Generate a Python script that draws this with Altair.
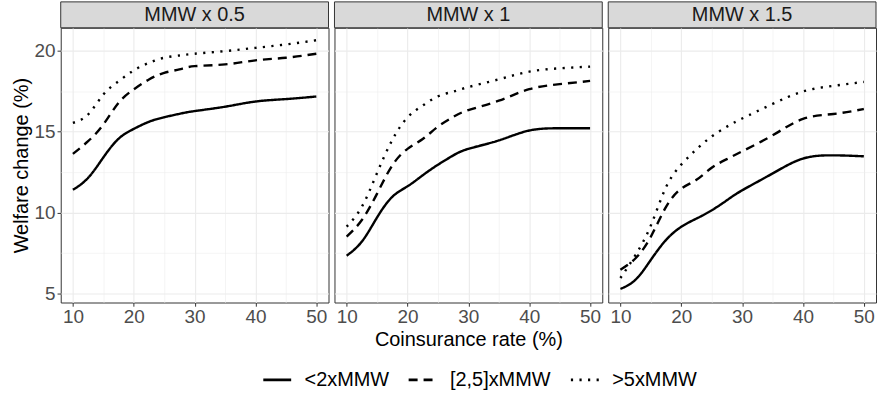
import altair as alt
import pandas as pd

# ---- data ----
rates = [10, 12.5, 15, 17.5, 20, 22.5, 25, 27.5, 30, 35, 40, 45, 50]
panels = ["MMW x 0.5", "MMW x 1", "MMW x 1.5"]
groups = ["<2xMMW", "[2,5]xMMW", ">5xMMW"]

p05_low = [11.40, 12.14, 13.40, 14.55, 15.16, 15.60, 15.88, 16.09, 16.26, 16.53, 16.85, 17.00, 17.16]
p05_mid = [13.62, 14.40, 15.43, 16.77, 17.60, 18.21, 18.62, 18.83, 19.03, 19.14, 19.39, 19.55, 19.80]
p05_high = [15.53, 16.05, 17.28, 18.10, 18.77, 19.24, 19.55, 19.69, 19.80, 19.96, 20.16, 20.37, 20.63]

p1_low = [7.34, 8.21, 9.70, 10.97, 11.62, 12.30, 12.95, 13.52, 13.93, 14.45, 15.06, 15.20, 15.20]
p1_mid = [8.52, 9.54, 11.17, 12.91, 13.93, 14.54, 15.30, 15.90, 16.32, 16.90, 17.61, 17.92, 18.12]
p1_high = [9.13, 10.36, 12.44, 14.48, 15.87, 16.60, 17.17, 17.46, 17.74, 18.22, 18.69, 18.90, 19.00]

p15_low = [5.29, 5.86, 7.08, 8.31, 9.12, 9.63, 10.14, 10.76, 11.37, 12.41, 13.33, 13.53, 13.47]
p15_mid = [6.47, 7.18, 8.51, 10.35, 11.47, 12.02, 12.76, 13.30, 13.78, 14.76, 15.78, 16.08, 16.39]
p15_high = [5.96, 7.39, 9.20, 11.57, 12.96, 13.90, 14.70, 15.30, 15.80, 16.70, 17.47, 17.82, 18.06]

x_ticks = [10, 15, 20, 25, 30, 35, 40, 45, 50]
y_ticks = [5, 7.5, 10, 12.5, 15, 17.5, 20]

series = {
    panels[0]: [p05_low, p05_mid, p05_high],
    panels[1]: [p1_low, p1_mid, p1_high],
    panels[2]: [p15_low, p15_mid, p15_high],
}
rows = []
for p, lists in series.items():
    for g, vals in zip(groups, lists):
        for r, v in zip(rates, vals):
            rows.append({"panel": p, "group": g, "rate": r, "value": v})
df = pd.DataFrame(rows)

# ---- layout / style ----
W, H = 269, 276
STRIP = 26
FONT = "Liberation Sans"
GRID_C = "#EBEBEB"


def x_axis(title):
    return alt.Axis(
        values=x_ticks,
        title=title,
        titleFontSize=20, titleFont=FONT, titleColor="black", titleFontWeight="normal",
        titlePadding=3,
        labelExpr="datum.value % 10 === 0 ? datum.label : ''",
        labelFontSize=19, labelFont=FONT, labelColor="#4D4D4D", labelPadding=1,
        labelOverlap=False,
        domain=False,
        tickColor="#333333", tickSize=3.7, tickWidth=1,
        tickOpacity={"condition": {"test": "datum.value % 10 === 0", "value": 1}, "value": 0},
        grid=True, gridColor=GRID_C,
        gridWidth={"condition": {"test": "datum.value % 10 === 0", "value": 1.1}, "value": 0.55},
    )


def y_axis(show):
    return alt.Axis(
        values=y_ticks,
        title="Welfare change (%)" if show else None,
        titleFontSize=20, titleFont=FONT, titleColor="black", titleFontWeight="normal",
        titlePadding=3,
        labels=show,
        labelExpr="datum.value % 5 === 0 ? datum.label : ''",
        labelFontSize=19, labelFont=FONT, labelColor="#4D4D4D", labelPadding=2,
        domain=False,
        ticks=show,
        tickColor="#333333", tickSize=3.7, tickWidth=1,
        tickOpacity={"condition": {"test": "datum.value % 5 === 0", "value": 1}, "value": 0},
        grid=True, gridColor=GRID_C,
        gridWidth={"condition": {"test": "datum.value % 5 === 0", "value": 1.1}, "value": 0.55},
    )


def panel_chart(i, p):
    lines = alt.Chart(df).transform_filter(
        alt.datum.panel == p
    ).mark_line(interpolate="natural", color="black", strokeWidth=2.4).encode(
        x=alt.X("rate:Q", scale=alt.Scale(domain=[8, 52], nice=False, zero=False),
                axis=x_axis("Coinsurance rate (%)" if i == 1 else None)),
        y=alt.Y("value:Q", scale=alt.Scale(domain=[4.45, 21.4], nice=False, zero=False),
                axis=y_axis(i == 0)),
        strokeDash=alt.StrokeDash(
            "group:N",
            scale=alt.Scale(domain=groups, range=[[1, 0], [9, 6], [2.2, 6.4]]),
            legend=alt.Legend(
                title=None, orient="none", direction="horizontal",
                legendX=202, legendY=338,
                symbolType="stroke", symbolSize=784, symbolStrokeWidth=2.6,
                symbolStrokeColor="black",
                labelFontSize=20, labelFont=FONT, labelColor="black",
                labelOffset=12, columnPadding=14,
            ) if i == 0 else None,
        ),
    )
    strip_data = alt.Chart(pd.DataFrame({"panel": [p]}))
    strip = strip_data.mark_rect(fill="#D9D9D9", stroke="#333333", strokeWidth=1).encode(
        x=alt.value(0), x2=alt.value(W), y=alt.value(-STRIP), y2=alt.value(0)
    )
    strip_text = strip_data.mark_text(
        font=FONT, fontSize=20, color="#1A1A1A", baseline="middle", align="center"
    ).encode(text="panel:N", x=alt.value(W / 2), y=alt.value(-STRIP / 2 + 0.5))
    return alt.layer(lines, strip, strip_text).properties(width=W, height=H)


chart = alt.hconcat(
    *[panel_chart(i, p) for i, p in enumerate(panels)], spacing=4
).properties(
    padding={"left": 10, "top": 0, "right": 1, "bottom": 1}, background="white"
).configure_view(
    stroke="#333333", strokeWidth=1
)

chart.save("out.html", embed_options={"renderer": "svg", "actions": False})
